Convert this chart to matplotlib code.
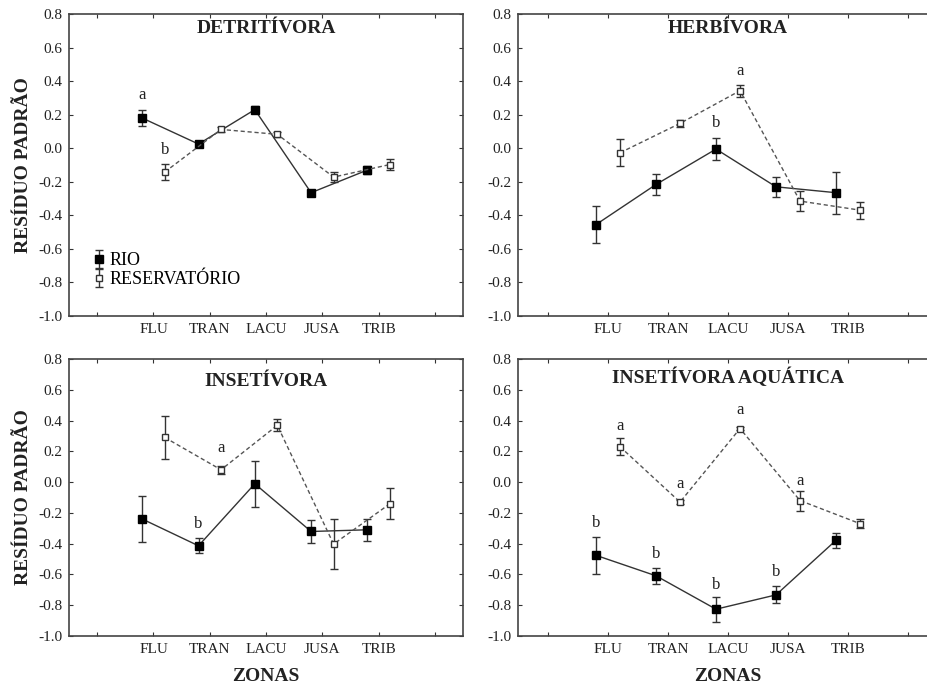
import numpy as np
import matplotlib.pyplot as plt

plt.rcParams['font.family'] = ['Liberation Serif', 'DejaVu Serif']

zonas = ['FLU', 'TRAN', 'LACU', 'JUSA', 'TRIB']
titulos = ['DETRITÍVORA', 'HERBÍVORA', 'INSETÍVORA', 'INSETÍVORA AQUÁTICA']

# medias e erros (RIO / RESERVATÓRIO) por guilda
rio_det = [0.18, 0.025, 0.23, -0.265, -0.13]
rio_det_err = [0.045, 0.02, 0.02, 0.015, 0.025]
res_det = [-0.142, 0.112, 0.083, -0.172, -0.097]
res_det_err = [0.05, 0.015, 0.015, 0.03, 0.03]

rio_her = [-0.455, -0.216, -0.005, -0.23, -0.265]
rio_her_err = [0.11, 0.06, 0.065, 0.06, 0.125]
res_her = [-0.027, 0.148, 0.343, -0.315, -0.369]
res_her_err = [0.08, 0.02, 0.035, 0.062, 0.05]

rio_ins = [-0.24, -0.414, -0.011, -0.321, -0.31]
rio_ins_err = [0.148, 0.048, 0.15, 0.075, 0.07]
res_ins = [0.29, 0.08, 0.369, -0.403, -0.141]
res_ins_err = [0.14, 0.025, 0.04, 0.16, 0.1]

rio_aq = [-0.476, -0.609, -0.826, -0.733, -0.378]
rio_aq_err = [0.12, 0.05, 0.08, 0.055, 0.05]
res_aq = [0.23, -0.13, 0.348, -0.12, -0.27]
res_aq_err = [0.055, 0.015, 0.012, 0.065, 0.03]

# letras de significancia: (serie, zona, letra, y)
letras_det = [('rio', 0, 'a', 0.32), ('res', 0, 'b', -0.01)]
letras_her = [('res', 2, 'a', 0.46), ('rio', 2, 'b', 0.15)]
letras_ins = [('res', 1, 'a', 0.22), ('rio', 1, 'b', -0.275)]
letras_aq = [('res', 0, 'a', 0.365), ('res', 1, 'a', -0.01), ('res', 2, 'a', 0.467),
             ('res', 3, 'a', 0.01), ('rio', 0, 'b', -0.265), ('rio', 1, 'b', -0.465),
             ('rio', 2, 'b', -0.667), ('rio', 3, 'b', -0.585)]

dados = [
    (rio_det, rio_det_err, res_det, res_det_err, letras_det),
    (rio_her, rio_her_err, res_her, res_her_err, letras_her),
    (rio_ins, rio_ins_err, res_ins, res_ins_err, letras_ins),
    (rio_aq, rio_aq_err, res_aq, res_aq_err, letras_aq),
]

# posicoes dos eixos (figura 928x684)
posicoes = [
    [0.0744, 0.538, 0.4246, 0.4415],
    [0.5582, 0.538, 0.4526, 0.4415],
    [0.0744, 0.0702, 0.4246, 0.405],
    [0.5582, 0.0702, 0.4526, 0.405],
]
titulo_y = [0.952, 0.952, 0.917, 0.935]

estilo_rio = dict(marker='s', ms=6, mfc='black', mec='black', ecolor='#333333',
                  elinewidth=1.0, capsize=3)
estilo_res = dict(marker='s', ms=5, mfc='white', mec='#333333', ecolor='#333333',
                  elinewidth=1.0, capsize=3)

fig = plt.figure(figsize=(9.28, 6.84), dpi=100)
x = np.arange(1, 6)
dx = 0.2
yt = np.round(np.arange(-1.0, 0.81, 0.2), 1)

for i, (rio, rio_e, res, res_e, letras) in enumerate(dados):
    ax = fig.add_axes(posicoes[i])
    ax.errorbar(x - dx, rio, yerr=rio_e, color='#333333', lw=1.0, ls='-', **estilo_rio)
    ax.errorbar(x + dx, res, yerr=res_e, color='#555555', lw=1.0, ls=(0, (3, 2)), **estilo_res)
    for serie, z, txt, yy in letras:
        xx = x[z] + (dx if serie == 'res' else -dx)
        ax.text(xx, yy, txt, ha='center', va='center', fontsize=12, color='#222222')

    ax.set_xlim(-0.5, 6.5)
    ax.set_ylim(-1.0, 0.8)
    ax.set_xticks(range(0, 7))
    ax.set_xticklabels([''] + zonas + [''])
    ax.set_yticks(yt)
    ax.set_yticklabels(['%.1f' % (v + 0.0) for v in yt])
    ax.tick_params(direction='in', length=3, width=0.8, top=True, right=True,
                   labelsize=11, colors='#333333', labelcolor='#222222', pad=5)
    for s in ax.spines.values():
        s.set_color('#444444')
        s.set_linewidth(1.2)

    ax.text(0.5, titulo_y[i], titulos[i], transform=ax.transAxes, ha='center',
            va='center', fontsize=14, fontweight='bold', color='#222222')

    if i in (0, 2):
        ax.set_ylabel('RESÍDUO PADRÃO', fontsize=14, fontweight='bold',
                      color='#222222', labelpad=4)
    if i in (2, 3):
        ax.set_xlabel('ZONAS', fontsize=14, fontweight='bold', color='#222222', labelpad=9)

    if i == 0:
        # legenda so com o simbolo e a barra de erro
        h_rio = ax.errorbar([np.nan], [np.nan], yerr=[0.1], ls='none', label='RIO', **estilo_rio)
        h_res = ax.errorbar([np.nan], [np.nan], yerr=[0.1], ls='none', label='RESERVATÓRIO',
                            **estilo_res)
        ax.legend(handles=[h_rio, h_res], loc='lower left', bbox_to_anchor=(0.03, 0.05),
                  frameon=False, fontsize=13, handlelength=0.6, handletextpad=0.3,
                  labelspacing=0.1, borderaxespad=0.3)

fig.savefig('out.png', dpi=100)
plt.close(fig)
